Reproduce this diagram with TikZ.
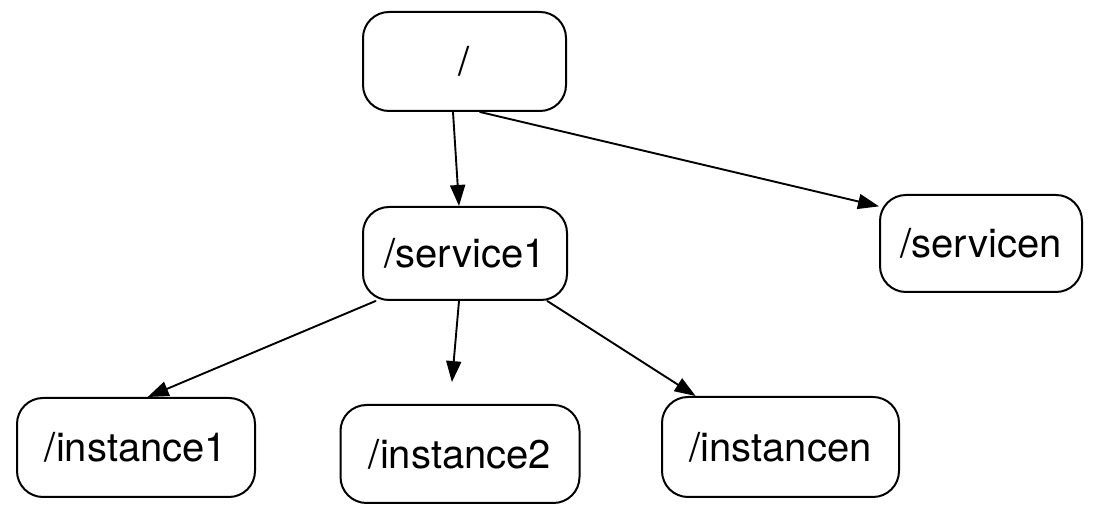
\documentclass[tikz,border=0pt]{standalone}
\usepackage{fontspec}
\setmainfont{TeX Gyre Heros}
\usetikzlibrary{arrows.meta}

\begin{document}
\begin{tikzpicture}[x=1pt,y=1pt,line cap=round,line join=round,
  box/.style={draw,line width=2pt,rounded corners=26pt,inner sep=0pt,font=\fontsize{40}{48}\selectfont},
  link/.style={line width=1.9pt,-{Triangle[length=21pt,width=15pt]}}]
  \useasboundingbox (0,0) rectangle (1101,518);
  \node[box,minimum width=203,minimum height=99] (root) at (464.5,456.5) {/};
  \node[box,minimum width=204,minimum height=93] (svc1) at (465,264.5) {/service1};
  \node[box,minimum width=202,minimum height=97] (svcn) at (981,274.5) {/servicen};
  \node[box,minimum width=238,minimum height=99] (inst1) at (136,70.5) {/instance1};
  \node[box,minimum width=239,minimum height=98] (inst2) at (460,64) {/instance2};
  \node[box,minimum width=237,minimum height=100] (instn) at (780.5,71) {/instancen};
  \draw[link] ([xshift=-11.5]root.south) -- ([xshift=-6]svc1.north);
  \draw[link] ([xshift=15.5]root.south) -- (svcn.160);
  \draw[link] (svc1.208) -- (inst1.77);
  \draw[link,shorten >=22pt] ([xshift=-6]svc1.south) -- ([xshift=-10]inst2.north);
  \draw[link] (svc1.-30) -- (instn.149);
\end{tikzpicture}
\end{document}
